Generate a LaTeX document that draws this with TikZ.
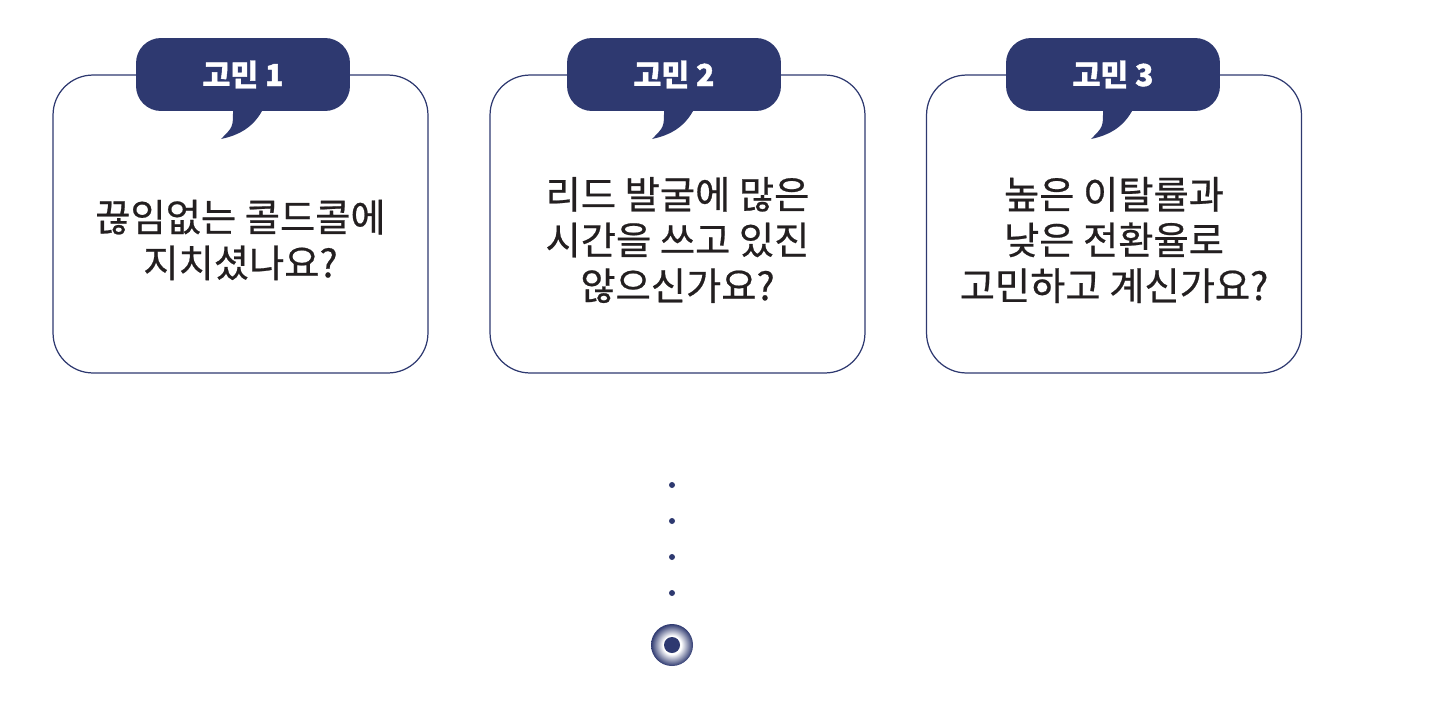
\documentclass[tikz,border=0pt]{standalone}
\usepackage{fontspec}
\newfontfamily\kr[FakeBold=0.6,BoldFeatures={FakeBold=1.4}]{Noto Sans CJK KR}
\definecolor{navy}{HTML}{2E3970}
\definecolor{ink}{HTML}{231F20}
\pgfdeclareradialshading{ringglow}{\pgfpoint{0bp}{0bp}}{color(0bp)=(white); color(11bp)=(white); color(25bp)=(navy); color(50bp)=(navy)}

\begin{document}
\begin{tikzpicture}[x=0.02cm,y=-0.02cm,
  card/.style={draw=navy,line width=0.7pt,rounded corners=0.8cm,minimum width=7.5cm,minimum height=5.96cm,inner sep=0pt},
  tab/.style={fill=navy,rounded corners=0.5cm,minimum width=4.28cm,minimum height=1.46cm,inner sep=0pt,text=white,font=\kr\bfseries\fontsize{17.2}{20}\selectfont},
  say/.style={text=ink,align=center,font=\kr\fontsize{21.8}{26}\selectfont}]
        \useasboundingbox (0,0) rectangle (1453,700);
        \foreach \cx/\tx/\n/\msg in {240.5/243/1/{끊임없는 콜드콜에\\지치셨나요?},
                                      677.5/674/2/{리드 발굴에 많은\\시간을 쓰고 있진\\않으신가요?},
                                      1114/1113/3/{높은 이탈률과\\낮은 전환율로\\고민하고 계신가요?}}{
          \node[card] (card\n) at (\cx,224) {};
          \fill[navy] (\tx-10,100) -- (\tx-10,111) .. controls (\tx-10,127) .. (\tx-22,139)
               .. controls (\tx+2,134) and (\tx+16,122) .. (\tx+24,100) -- cycle;
          \node[tab] (tab\n) at (\tx,74.5) {고민 \n};
          \node[say] (say\n) at (\cx,240) {\msg};
        }
        \foreach \y in {485,521,557,593}
          \fill[navy] (672,\y) circle (3);
        \shade[shading=ringglow] (672,645) circle (21);
        \fill[navy] (672,645) circle (8);
\end{tikzpicture}
\end{document}
